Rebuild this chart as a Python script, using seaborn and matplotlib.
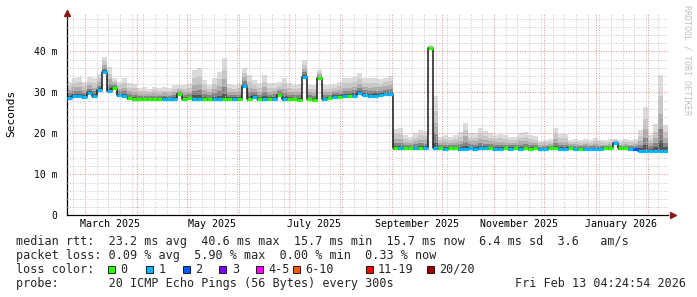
import numpy as np
import pandas as pd
import matplotlib
matplotlib.use("Agg")
import matplotlib.pyplot as plt
import matplotlib.dates as mdates
import matplotlib.transforms as mtransforms
from matplotlib.patches import Rectangle
import seaborn as sns

# ---------------- data ----------------
start = pd.Timestamp("2025-02-18 04:24:54")
end = pd.Timestamp("2026-02-13 04:24:54")
step_days = 3  # one consolidated sample every 3 days

median_ms = [
    28.7, 29.2, 29.1, 28.8, 29.8, 29.0, 30.5, 35.0, 30.4, 31.0,
    29.3, 29.0, 28.5, 28.4, 28.3, 28.3, 28.3, 28.3, 28.3, 28.4,
    28.4, 28.4, 29.5, 28.3, 28.5, 28.4, 28.3, 28.3, 28.3, 28.3,
    28.4, 28.4, 28.3, 28.4, 28.3, 31.5, 28.3, 28.9, 28.3, 28.4,
    28.3, 28.4, 29.3, 28.4, 28.3, 28.3, 28.2, 33.8, 28.3, 28.2,
    33.4, 28.3, 28.5, 28.9, 28.9, 29.1, 29.1, 29.2, 29.8, 29.4,
    29.1, 29.2, 29.3, 29.5, 29.6, 16.4, 16.3, 16.3, 16.3, 16.3,
    16.3, 16.3, 40.7, 16.4, 16.3, 16.2, 16.3, 16.3, 16.2, 16.2,
    16.3, 16.2, 16.3, 16.3, 16.3, 16.2, 16.2, 16.3, 16.2, 16.3,
    16.2, 16.3, 16.2, 16.3, 16.2, 16.2, 16.3, 16.3, 16.2, 16.2,
    16.3, 16.2, 16.2, 16.2, 16.2, 16.2, 16.2, 16.3, 16.3, 17.6,
    16.3, 16.3, 16.2, 16.2, 15.8, 15.8, 15.8, 15.8, 15.8, 15.8,
]

smoke_max_ms = [
    32.6, 33.4, 33.8, 32.6, 33.7, 33.5, 34.5, 38.7, 36.2, 33.5,
    32.6, 33.4, 32.2, 32.0, 31.0, 31.2, 30.8, 31.3, 31.0, 31.2,
    31.0, 31.8, 31.8, 31.8, 32.0, 35.5, 36.0, 33.0, 31.8, 33.4,
    35.0, 38.3, 32.0, 31.8, 32.0, 36.0, 34.2, 33.0, 32.2, 34.2,
    32.2, 32.2, 32.5, 33.5, 32.2, 31.8, 32.0, 37.9, 31.8, 31.8,
    35.4, 31.8, 31.8, 32.0, 32.5, 33.4, 33.4, 33.8, 34.6, 33.4,
    33.4, 33.6, 33.2, 33.6, 34.0, 21.0, 21.2, 19.5, 19.0, 20.0,
    20.8, 20.5, 41.5, 29.0, 19.0, 19.5, 19.0, 19.6, 20.2, 22.5,
    20.0, 20.0, 21.2, 20.5, 20.0, 19.5, 19.8, 19.6, 19.2, 19.2,
    20.0, 20.2, 19.5, 19.3, 18.2, 18.4, 18.5, 21.2, 19.8, 19.9,
    18.4, 18.6, 18.3, 18.5, 18.3, 18.8, 18.4, 18.3, 18.5, 18.6,
    18.3, 18.5, 18.4, 18.6, 20.8, 26.5, 19.5, 22.2, 34.2, 22.0,
]

loss_count = [
    1, 1, 1, 1, 1, 1, 1, 1, 1, 0,
    1, 1, 0, 0, 0, 0, 0, 0, 0, 1,
    1, 1, 0, 0, 0, 1, 1, 0, 0, 1,
    1, 0, 0, 1, 0, 1, 0, 1, 0, 1,
    0, 1, 0, 1, 0, 0, 0, 1, 0, 0,
    0, 1, 0, 1, 0, 1, 0, 1, 1, 1,
    1, 1, 1, 1, 1, 0, 1, 0, 0, 1,
    0, 1, 0, 1, 0, 1, 0, 0, 1, 1,
    1, 1, 1, 1, 0, 1, 1, 0, 1, 0,
    1, 0, 0, 0, 1, 1, 0, 0, 1, 1,
    0, 1, 0, 1, 1, 1, 1, 0, 0, 1,
    0, 0, 1, 2, 1, 1, 1, 1, 1, 1,
]

loss_labels = ["0", "1", "2", "3", "4-5", "6-10", "11-19", "20/20"]
loss_colors = ["#26ff00", "#00b8ff", "#0059ff", "#7e00ff",
               "#ff00ff", "#ff5500", "#ff0000", "#a10000"]

month_labels = ["March 2025", "May 2025", "July 2025",
                "September 2025", "November 2025", "January 2026"]
month_label_dates = ["2025-03-16", "2025-05-16", "2025-07-16",
                     "2025-09-16", "2025-11-16", "2026-01-16"]

y_ticks = [0, 10, 20, 30, 40]
y_tick_labels = ["0", "10 m", "20 m", "30 m", "40 m"]

stats_rtt = "median rtt:  23.2 ms avg  40.6 ms max  15.7 ms min  15.7 ms now  6.4 ms sd  3.6   am/s"
stats_loss = "packet loss: 0.09 % avg  5.90 % max  0.00 % min  0.33 % now"
probe_text = "probe:       20 ICMP Echo Pings (56 Bytes) every 300s"
stamp_text = "Fri Feb 13 04:24:54 2026"

# ---------------- figure ----------------
sns.set_style("white")
plt.rcParams["font.family"] = ["DejaVu Sans Mono"]

W, H = 697, 297
fig = plt.figure(figsize=(W / 100, H / 100), dpi=100)
fig.patch.set_facecolor("white")

x0, x1, ytop, ybot = 67, 668, 13.3, 215.3
ax = fig.add_axes([x0 / W, (H - ybot) / H, (x1 - x0) / W, (ybot - ytop) / H])
ax.set_facecolor("white")

n = len(median_ms)
edges = start + pd.to_timedelta(np.arange(n + 1) * step_days, unit="D")
med = np.array(median_ms)
mx = np.array(smoke_max_ms)
med_ext = np.append(med, med[-1])
mx_ext = np.append(mx, mx[-1])

# smoke (distribution shading from median up to max)
layers = [(1.0, "#dcdcdc"), (0.72, "#c8c8c8"), (0.48, "#adadad"),
          (0.28, "#858585"), (0.12, "#555555")]
for frac, col in layers:
    ax.fill_between(edges, med_ext - 0.4, med_ext + frac * (mx_ext - med_ext),
                    step="post", color=col, lw=0, zorder=1)

# median line: dark connectors + loss coloured steps
df = pd.DataFrame({"t": edges, "median": med_ext})
sns.lineplot(data=df, x="t", y="median", drawstyle="steps-post",
             color="#1a1a1a", lw=1.1, estimator=None, ax=ax, zorder=3)
ax.hlines(med, edges[:-1], edges[1:],
          colors=[loss_colors[l] for l in loss_count], lw=2.3, zorder=4)

# axes limits / grid
ax.set_xlim(start, end)
ax.set_ylim(0, (ybot - ytop) / 4.1)
ax.set_xlabel("")
ax.set_ylabel("")

ax.xaxis.set_major_locator(mdates.MonthLocator())
ax.xaxis.set_minor_locator(mdates.WeekdayLocator(byweekday=mdates.SA))
ax.xaxis.set_major_formatter(plt.NullFormatter())
ax.set_yticks(y_ticks)
ax.set_yticklabels(y_tick_labels)
ax.set_yticks(np.arange(0, 50, 2), minor=True)

ax.set_axisbelow(False)
ax.grid(which="minor", color="#c4c4c4", lw=0.7, ls=(0, (1, 1.6)), zorder=2)
ax.grid(which="major", color="#e48a8a", lw=0.7, ls=(0, (1, 1.6)), zorder=2)

ax.tick_params(axis="y", which="major", length=2, width=0.7, pad=5,
               labelsize=7, colors="black")
ax.tick_params(axis="y", which="minor", length=1, width=0.6)
ax.tick_params(axis="x", which="major", length=3, width=0.7)
ax.tick_params(axis="x", which="minor", length=1.5, width=0.6)

for s in ["top", "right"]:
    ax.spines[s].set_visible(False)
for s in ["left", "bottom"]:
    ax.spines[s].set_color("black")
    ax.spines[s].set_linewidth(0.9)

# month labels, centred in the month
trans = mtransforms.blended_transform_factory(ax.transData, ax.transAxes)
for lab, d in zip(month_labels, month_label_dates):
    ax.text(pd.Timestamp(d), -0.045, lab, transform=trans, ha="center",
            va="center", fontsize=7.2, color="black")

# axis arrows
ax.plot([0], [1.0], marker="^", ms=4.5, color="#8b1a1a", transform=ax.transAxes,
        clip_on=False, zorder=6)
ax.plot([1.0 + 5 / 601], [0], marker=">", ms=4.5, color="#8b1a1a",
        transform=ax.transAxes, clip_on=False, zorder=6)

# y axis title and watermark
fig.text(11 / W, 1 - 113 / H, "Seconds", rotation=90, ha="center",
         va="center", fontsize=8, color="black")
fig.text(687 / W, 1 - 5 / H, "RRDTOOL / TOBI OETIKER", rotation=-90,
         ha="center", va="top", fontsize=6, color="#c0c0c0")

# legend / statistics block
fs = 8.5
fig.text(16 / W, 1 - 241 / H, stats_rtt, ha="left", va="center", fontsize=fs)
fig.text(16 / W, 1 - 255 / H, stats_loss, ha="left", va="center", fontsize=fs)
fig.text(16 / W, 1 - 269.3 / H, "loss color:", ha="left", va="center", fontsize=fs)
box_x = [108.3, 146, 182.7, 219.3, 256, 292.7, 365.7, 426.7]
for bx, lab, col in zip(box_x, loss_labels, loss_colors):
    fig.patches.append(Rectangle((bx / W, 1 - 272.8 / H), 7 / W, 7 / H,
                                 transform=fig.transFigure, facecolor=col,
                                 edgecolor="black", lw=0.6))
    fig.text((bx + 12.4) / W, 1 - 269.3 / H, lab, ha="left", va="center",
             fontsize=fs)
fig.text(16 / W, 1 - 283.3 / H, probe_text, ha="left", va="center", fontsize=fs)
fig.text(515 / W, 1 - 283.3 / H, stamp_text, ha="left", va="center", fontsize=fs)

fig.savefig("out.png", dpi=100, facecolor="white")
